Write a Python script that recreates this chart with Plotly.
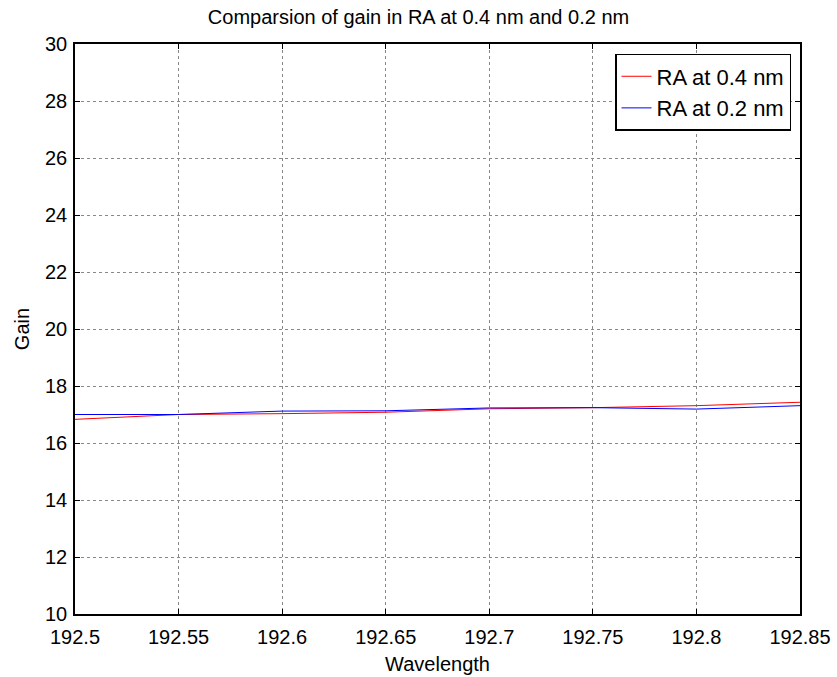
import plotly.graph_objects as go

wavelength = [192.5, 192.55, 192.6, 192.65, 192.7, 192.75, 192.8, 192.85]
gain_04 = [16.83, 17.0, 17.03, 17.08, 17.2, 17.24, 17.31, 17.43]
gain_02 = [17.0, 17.0, 17.12, 17.13, 17.23, 17.24, 17.19, 17.31]
x_ticks = [192.5, 192.55, 192.6, 192.65, 192.7, 192.75, 192.8, 192.85]
x_tick_text = ["192.5", "192.55", "192.6", "192.65", "192.7", "192.75", "192.8", "192.85"]
y_ticks = [10, 12, 14, 16, 18, 20, 22, 24, 26, 28, 30]

FONT = "Liberation Sans, Arial, sans-serif"

fig = go.Figure()
fig.add_trace(go.Scatter(x=wavelength, y=gain_04, mode="lines", name="RA at 0.4 nm",
                         line=dict(color="#ff0000", width=1)))
fig.add_trace(go.Scatter(x=wavelength, y=gain_02, mode="lines", name="RA at 0.2 nm",
                         line=dict(color="#0000ff", width=1)))

axis_common = dict(
    showline=True, linecolor="black", linewidth=1.5, mirror="allticks",
    ticks="inside", ticklen=5, tickcolor="black", automargin=False,
    showgrid=True, gridcolor="#888888", griddash="dot", gridwidth=1,
    zeroline=False, tickfont=dict(family=FONT, size=20, color="black"),
)

fig.update_xaxes(range=[192.5, 192.85], tickvals=x_ticks, ticktext=x_tick_text,
                 ticklabelstandoff=4,
                 title=dict(text="Wavelength", font=dict(family=FONT, size=20, color="black"), standoff=10),
                 **axis_common)
fig.update_yaxes(range=[10, 30], tickvals=y_ticks, ticklabelstandoff=2,
                 title=dict(text="Gain", font=dict(family=FONT, size=20, color="black"), standoff=10),
                 **axis_common)

fig.update_layout(
    width=837, height=677,
    margin=dict(l=75, r=37, t=44, b=63, autoexpand=False),
    paper_bgcolor="white", plot_bgcolor="white",
    title=dict(text="Comparsion of gain in RA at 0.4 nm and 0.2 nm",
               font=dict(family=FONT, size=20, color="black"),
               x=0.5, xanchor="center", y=1 - 17 / 677, yanchor="middle"),
    legend=dict(x=0.9876, xanchor="right", y=0.9825, yanchor="top",
                bgcolor="white", bordercolor="black", borderwidth=1.5,
                font=dict(family=FONT, size=22, color="black")),
    showlegend=True,
)

fig.write_html("out.html")
